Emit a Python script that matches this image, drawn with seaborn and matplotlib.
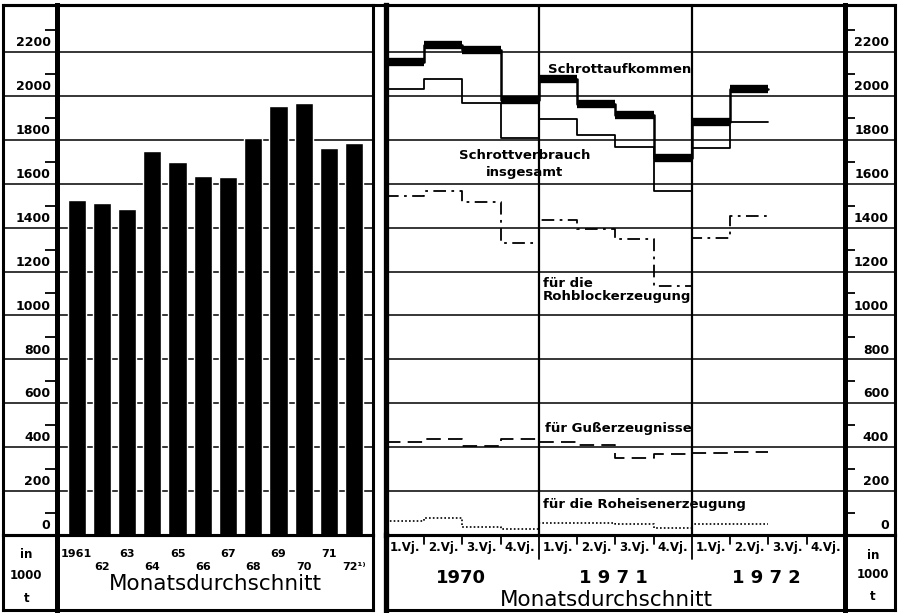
import matplotlib.pyplot as plt
import numpy as np
import seaborn as sns
from matplotlib.lines import Line2D

# left panel: monthly average per year (1000 t)
years = ["1961", "62", "63", "64", "65", "66", "67", "68", "69", "70", "71", "72¹⁾"]
monthly_avg = [1526, 1510, 1485, 1749, 1699, 1636, 1631, 1810, 1954, 1968, 1763, 1786]

# right panel: quarters 1970 .. 1972/2
quarter_labels = ["1.Vj.", "2.Vj.", "3.Vj.", "4.Vj."] * 3
quarter_years = ["1970", "1 9 7 1", "1 9 7 2"]
aufkommen = [2156, 2232, 2209, 1981, 2077, 1963, 1913, 1719, 1881, 2031]
verbrauch = [2031, 2077, 1968, 1810, 1895, 1822, 1767, 1565, 1763, 1881]
rohblock = [1544, 1567, 1517, 1330, 1435, 1394, 1349, 1134, 1353, 1453]
guss = [424, 437, 405, 437, 424, 410, 351, 369, 374, 378]
roheisen = [65, 77, 38, 27, 56, 56, 50, 32, 50, 50]

y_values = list(range(0, 2201, 200))
y_marks = list(range(100, 2400, 200))

sns.set_style("white")
plt.rcParams["font.family"] = ["DejaVu Sans"]
plt.rcParams["text.color"] = "black"

W, H = 904, 613
YMAX = 2414
fig = plt.figure(figsize=(W / 100, H / 100), dpi=100)


def box(x0, y0, x1, y1):
    return fig.add_axes([x0 / W, 1 - y1 / H, (x1 - x0) / W, (y1 - y0) / H])


def frame(ax, lw=2.2):
    ax.set_xticks([])
    ax.set_yticks([])
    for s in ax.spines.values():
        s.set_visible(True)
        s.set_linewidth(lw)
        s.set_color("black")
    ax.patch.set_alpha(0)


def value_column(ax, xpos):
    frame(ax)
    ax.set_xlim(0, 1)
    ax.set_ylim(0, YMAX)
    for v in y_values:
        ax.axhline(v, color="black", lw=1.1)
        ax.annotate(str(v), (xpos, v), xytext=(0, 2), textcoords="offset points",
                    ha="right", va="bottom", fontsize=9, fontweight="bold")


def unit_cell(ax, xc, baselines):
    frame(ax)
    for txt, b in zip(["in", "1000", "t"], baselines):
        ax.text(xc, (610 - b) / 75, txt, transform=ax.transAxes, ha="center",
                va="baseline", fontsize=8.5, fontweight="bold")


def steps(vals):
    return np.append(vals, vals[-1])


# ---------- left panel ----------
axLc = box(3, 5, 57, 535)
value_column(axLc, 0.88)
axLc.spines["right"].set_linewidth(3.5)

axB = box(57, 5, 373, 535)
sns.barplot(x=years, y=monthly_avg, color="black", width=0.72, saturation=1, ax=axB, zorder=3)
frame(axB)
axB.spines["left"].set_linewidth(3.5)
axB.set_xlim(-0.78, 11.75)
axB.set_ylim(0, YMAX)
axB.set_xlabel("")
axB.set_ylabel("")
for v in y_values:
    axB.axhline(v, color="black", lw=1.1, zorder=1)
axB.set_yticks(y_marks, minor=True)
axB.tick_params(axis="y", which="minor", left=True, length=8.5, width=1.3,
                direction="out", color="black")

axBs = box(57, 535, 373, 610)
frame(axBs)
axBs.spines["left"].set_linewidth(3.5)
axBs.set_xlim(axB.get_xlim())
axBs.set_ylim(0, 1)
for i, lab in enumerate(years):
    base = 557 if i % 2 == 0 else 570
    axBs.text(i, (610 - base) / 75, lab, ha="center", va="baseline",
              fontsize=8, fontweight="bold")
axBs.text(0.5, (610 - 590) / 75, "Monatsdurchschnitt", transform=axBs.transAxes,
          ha="center", va="baseline", fontsize=15.5)

axLu = box(3, 535, 57, 610)
unit_cell(axLu, 0.43, [558, 579, 602])
axLu.spines["right"].set_linewidth(3.5)

# ---------- right panel ----------
axR = box(386, 5, 845, 535)
frame(axR)
axR.spines["left"].set_linewidth(3.8)
axR.spines["right"].set_linewidth(3.5)
axR.set_xlim(0, 12)
axR.set_ylim(0, YMAX)
for v in y_values:
    axR.axhline(v, color="black", lw=1.1, zorder=1)
axR.axvline(4, color="black", lw=1.6)
axR.axvline(8, color="black", lw=1.6)

edges = np.arange(len(aufkommen) + 1)
axR.hlines(aufkommen, edges[:-1], edges[1:], color="black", lw=6)
sns.lineplot(x=edges, y=steps(aufkommen), drawstyle="steps-post", color="black", lw=1.8, ax=axR)
sns.lineplot(x=edges, y=steps(verbrauch), drawstyle="steps-post", color="black", lw=1.3, ax=axR)
sns.lineplot(x=edges, y=steps(rohblock), drawstyle="steps-post", color="black", lw=1.3,
             linestyle=(0, (7, 3, 1.5, 3)), ax=axR)
sns.lineplot(x=edges, y=steps(guss), drawstyle="steps-post", color="black", lw=1.3,
             linestyle=(0, (8, 4)), ax=axR)
sns.lineplot(x=edges, y=steps(roheisen), drawstyle="steps-post", color="black", lw=1.2,
             linestyle=(0, (1, 1.3)), ax=axR)
axR.set_xlabel("")
axR.set_ylabel("")
axR.set_xticks([])
axR.set_yticks([])
axR.set_yticks(y_marks, minor=True)
axR.tick_params(axis="y", which="minor", right=True, left=False, length=7.5, width=1.3,
                direction="out", color="black")

ann = dict(fontsize=9.5, fontweight="bold", va="baseline")
axR.text(4.24, 2104, "Schrottaufkommen", ha="left", **ann)
axR.text(3.63, 1712, "Schrottverbrauch", ha="center", **ann)
axR.text(3.63, 1636, "insgesamt", ha="center", **ann)
axR.text(4.1, 1130, "für die", ha="left", **ann)
axR.text(4.1, 1070, "Rohblockerzeugung", ha="left", **ann)
axR.text(4.16, 469, "für Gußerzeugnisse", ha="left", **ann)
axR.text(4.1, 123, "für die Roheisenerzeugung", ha="left", **ann)

axRc = box(845, 5, 895, 535)
value_column(axRc, 0.88)
axRc.spines["left"].set_linewidth(3.5)

axRs = box(386, 535, 845, 610)
frame(axRs)
axRs.spines["left"].set_linewidth(3.8)
axRs.spines["right"].set_linewidth(3.5)
axRs.set_xlim(0, 12)
axRs.set_ylim(0, 1)
for q in range(1, 12):
    axRs.axvline(q, ymin=0.68 if q % 4 == 0 else 0.88, ymax=1, color="black", lw=1.3)
for i, lab in enumerate(quarter_labels):
    axRs.text(i + 0.5, (610 - 551) / 75, lab, ha="center", va="baseline",
              fontsize=8.5, fontweight="bold")
for i, lab in enumerate(quarter_years):
    axRs.text(4 * i + 1.95, (610 - 583) / 75, lab, ha="center", va="baseline",
              fontsize=13, fontweight="bold")
axRs.text(0.48, (610 - 606) / 75, "Monatsdurchschnitt", transform=axRs.transAxes,
          ha="center", va="baseline", fontsize=15.5)

axRu = box(845, 535, 895, 610)
unit_cell(axRu, 0.56, [559, 578, 600])
axRu.spines["left"].set_linewidth(3.5)

fig.add_artist(Line2D([3 / W, 895 / W], [1 - 5 / H, 1 - 5 / H], color="black", lw=2.2))

fig.savefig("out.png", dpi=100, facecolor="white")
